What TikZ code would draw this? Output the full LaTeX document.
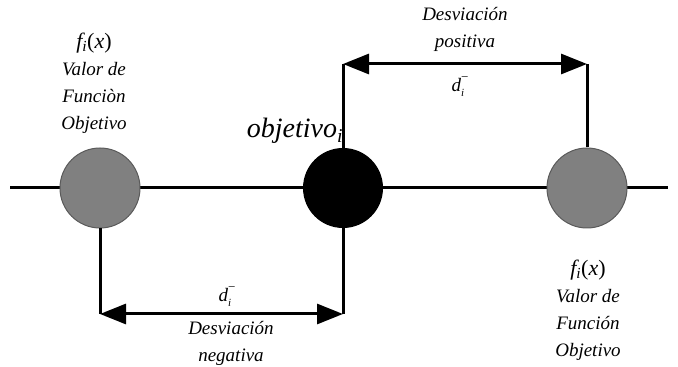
\documentclass[tikz,border=0pt]{standalone}
\usepackage{fontspec}
\setmainfont{Liberation Serif}
\usetikzlibrary{arrows.meta}
\definecolor{grisnodo}{HTML}{808080}
\definecolor{bordenodo}{HTML}{5A5A5A}
\tikzset{
  nodogris/.style={circle, fill=grisnodo, draw=bordenodo, line width=1pt, minimum size=80pt, inner sep=0pt},
  nodonegro/.style={circle, fill=black, minimum size=80pt, inner sep=0pt},
  linea/.style={line width=3pt},
  flecha/.style={line width=3pt, {Triangle[length=26pt,width=20pt]}-{Triangle[length=26pt,width=20pt]}},
  etiqueta/.style={font=\fontsize{19}{27}\selectfont\itshape, align=center, inner sep=0pt},
}
\newcommand{\fix}{{\fontsize{22}{27}\selectfont f\textsubscript{i}\upshape(\itshape x\upshape)}}
\newcommand{\dmenos}{d\rlap{\raisebox{0.5em}{\fontsize{13}{13}\selectfont\upshape −}}\raisebox{-0.3em}{\fontsize{11}{11}\selectfont i}\kern2pt}
\begin{document}
\begin{tikzpicture}[x=1pt, y=1pt]
\useasboundingbox (0,0) rectangle (678,367);
% eje horizontal
\coordinate (ini) at (10,179);
\coordinate (fin) at (668,179);
\draw[linea] (ini) -- (fin);
\node[nodogris] (fizq) at (100,179) {};
\node[nodonegro] (obj) at (343,179) {};
\node[nodogris] (fder) at (587,179) {};
\node[font=\fontsize{28}{30}\selectfont\itshape, inner sep=0pt] (lobj) at (295,236) {objetivo\textsubscript{i}};

% desviacion positiva
\coordinate (pa) at (343,303);
\coordinate (pb) at (587,303);
\draw[linea] (obj.north) -- (pa);
\draw[linea] (fder.north) -- (pb);
\draw[flecha] (pa) -- (pb);
\node[etiqueta] (lpos) at (465,338) {Desviación\\positiva};
\node[etiqueta] (dpos) at (459,280) {\dmenos};

% desviacion negativa
\coordinate (na) at (100,53);
\coordinate (nb) at (343,53);
\draw[linea] (fizq.south) -- (na);
\draw[linea] (obj.south) -- (nb);
\draw[flecha] (na) -- (nb);
\node[etiqueta] (dneg) at (226,70) {\dmenos};
\node[etiqueta] (lneg) at (231,24) {Desviación\\negativa};

% valores de la funcion
\node[etiqueta] (tizq) at (94,284) {\fix\\Valor de\\Funciòn\\Objetivo};
\node[etiqueta] (tder) at (588,57) {\fix\\Valor de\\Función\\Objetivo};
\end{tikzpicture}
\end{document}
